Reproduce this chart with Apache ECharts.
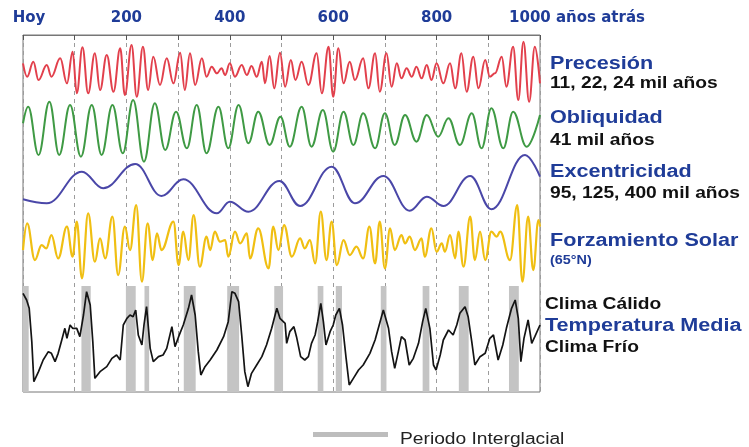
<!DOCTYPE html>
<html>
<head>
<meta charset="utf-8">
<script src="https://cdn.jsdelivr.net/npm/echarts@6/dist/echarts.min.js"></script>
<style>
  html, body { margin: 0; padding: 0; background: #fff; }
  #chart { width: 749px; height: 447px; }
</style>
</head>
<body>
<div id="chart"></div>
<script>
// Time axis in thousands of years before present
const tickValues = [0, 200, 400, 600, 800, 1000];
const tickNames = ['Hoy', '200', '400', '600', '800', '1000 años atrás'];

// Interglacial periods [start, end], kyr ago
const interglacial = [[0, 11], [113, 131], [199, 218], [235, 244], [311, 334], [395, 418], [486, 503],
  [570, 581], [605, 617], [692, 703], [773, 786], [843, 862], [940, 959]];

// Precession index (relative units), [kyr, value]
const precession = [[0, 2.5], [8, -1.5], [20, 3.0], [30, -2.5], [46, 2.0], [55, -1.5], [72, 4.0], [85, -3.5],
  [96, 6.0], [104, -6.5], [115, 7.3], [126, -6.5], [139, 5.5], [149, -5.5], [162, 5.0], [175, -6.0], [188, 7.0],
  [197, -7.0], [210, 8.0], [220, -7.5], [232, 7.5], [242, -5.5], [252, 4.5], [265, -4.0], [278, 4.0], [291, -3.5],
  [304, 5.7], [313, -5.5], [323, 5.5], [333, -4.0], [346, 4.0], [355, -1.5], [365, 1.5], [375, -0.5], [384, 1.0],
  [391, -1.0], [400, 2.5], [410, -1.5], [423, 2.0], [433, -1.0], [442, 1.7], [452, -1.5], [462, 3.0], [468, -3.5],
  [477, 4.7], [486, -5.0], [497, 5.7], [507, -4.5], [518, 3.5], [527, -2.5], [539, 3.0], [552, -4.0], [568, 5.5],
  [578, -6.5], [591, 7.5], [600, -7.5], [610, 7.0], [620, -3.5], [632, 3.0], [642, -2.5], [658, 4.0], [668, -5.0],
  [681, 5.5], [690, -6.0], [703, 5.5], [713, -4.5], [723, 2.5], [732, -2.0], [742, 1.0], [752, -1.5], [761, 1.5],
  [771, -2.0], [781, 2.0], [790, -2.5], [800, 2.5], [813, -3.5], [826, 2.5], [836, -5.0], [848, 5.5], [858, -6.0],
  [871, 4.5], [881, -5.0], [894, 3.5], [903, -1.5], [913, -0.5], [926, 4.5], [935, -4.5], [948, 7.5], [958, -8.5],
  [968, 9.0], [979, -9.0], [990, 7.5], [1000, -3.5]];

// Obliquity (relative units)
const obliquity = [[0, 1.5], [10, 6.5], [30, -8.0], [51, 8.0], [70, -8.0], [91, 7.0], [112, -8.5], [133, 7.0],
  [152, -8.0], [173, 7.0], [193, -7.5], [213, 8.5], [234, -10.0], [255, 7.5], [275, -6.5], [296, 5.0], [317, -6.0],
  [336, 7.0], [355, -7.5], [378, 6.5], [397, -6.0], [417, 7.0], [436, -4.5], [455, 5.0], [477, -5.0], [498, 3.5],
  [516, -5.5], [539, 6.5], [558, -5.5], [580, 5.5], [600, -7.0], [620, 5.0], [639, -5.0], [658, 4.5], [681, -6.0],
  [700, 4.5], [719, -5.0], [739, 4.0], [761, -4.0], [781, 4.0], [803, -2.5], [823, 3.0], [845, -5.0], [868, 4.5],
  [887, -6.0], [906, 6.0], [929, -6.0], [948, 5.0], [974, -5.5], [1000, 4.0]];

// Eccentricity (relative units)
const eccentricity = [[0, -3.3], [46, -4.5], [114, 5.0], [155, 0], [217, 7.3], [268, -2.3], [310, 2.7],
  [375, -7.5], [400, -4.0], [436, -7.0], [496, 2.2], [536, -5.3], [597, 6.5], [642, -4.5], [697, 3.7],
  [748, -6.7], [781, -2.5], [813, -5.3], [865, 3.7], [906, -6.3], [971, 10.0], [1000, 3.5]];

// Summer insolation at 65°N (relative units)
const insolation = [[0, -1.0], [8, 7.0], [23, -4.0], [36, 0.5], [45, -0.5], [55, 3.5], [68, -3.5], [85, 6.0],
  [96, -3.0], [104, 7.5], [114, -9.5], [126, 10.0], [139, -4.5], [149, 2.5], [159, -3.5], [173, 9.0], [184, -8.5],
  [197, 6.0], [207, -1.0], [219, 12.5], [230, -10.5], [241, 7.0], [251, -4.0], [259, 4.0], [268, -1.0], [291, 7.5],
  [301, -5.5], [310, 4.5], [320, -4.0], [330, 9.5], [342, -6.0], [355, 3.0], [362, -1.0], [371, 4.5], [381, 1.5],
  [391, 2.0], [397, -3.0], [410, 4.5], [420, 1.0], [433, 4.0], [439, -3.5], [455, 5.5], [475, -6.5], [484, 6.0],
  [494, -1.0], [505, 6.5], [520, -3.0], [536, 2.5], [545, -0.5], [555, 2.0], [565, -5.0], [576, 10.5], [587, -4.0],
  [597, 7.5], [607, -5.5], [620, 2.0], [632, -2.5], [645, 0], [658, -3.5], [670, 6.0], [681, -5.0], [690, 7.5],
  [700, -6.5], [710, 5.5], [719, -1.0], [732, 3.5], [739, 1.0], [748, 3.0], [758, -1.0], [771, 2.5], [777, -3.0],
  [790, 5.5], [800, -1.5], [810, 1.0], [816, -1.5], [826, 3.5], [836, -3.5], [842, 4.5], [852, -6.0], [865, 9.0],
  [874, -4.0], [884, 4.5], [894, -4.0], [906, 4.5], [916, 3.0], [923, 4.5], [942, -4.0], [956, 12.5], [966, -10.5],
  [977, 9.0], [987, -7.0], [997, 8.0], [1000, 6.0]];

// Mean temperature anomaly (relative units)
const temperature = [[0, 13.5], [7, 11.5], [12, 9.0], [17, -1.0], [21, -13.0], [30, -10.0], [39, -6.5], [49, -4.0],
  [55, -4.5], [62, -7.0], [68, -4.5], [75, -0.5], [81, 3.0], [85, 0], [91, 4.0], [96, 3.0], [104, 3.0], [110, 0.5],
  [117, 7.0], [123, 14.0], [130, 10.0], [135, -1.0], [139, -12.0], [149, -10.0], [162, -8.5], [172, -6.0],
  [181, -5.0], [188, -6.5], [194, 4.0], [201, 6.0], [207, 7.0], [213, 6.5], [218, 8.5], [223, 1.0], [230, -2.0],
  [234, 4.0], [239, 9.5], [246, -3.0], [252, -7.0], [262, -5.5], [271, -5.0], [278, -3.0], [288, 3.5], [294, -2.5],
  [301, 0.5], [310, 4.0], [320, 9.0], [326, 13.0], [333, 7.0], [339, -4.0], [344, -11.0], [352, -8.5], [362, -6.5],
  [375, -3.5], [388, 0.5], [397, 5.0], [404, 14.0], [410, 13.5], [417, 11.0], [423, 1.0], [429, -10.0],
  [435, -14.5], [442, -10.5], [452, -8.0], [462, -5.5], [471, -2.0], [481, 3.0], [491, 9.0], [497, 6.0], [507, 4.5],
  [510, -1.5], [516, 2.0], [524, 3.5], [529, 0.5], [537, -5.5], [545, -6.5], [552, -5.5], [558, -1.5], [565, 1.0],
  [570, 5.0], [576, 10.5], [581, 5.0], [586, -2.0], [594, 2.0], [600, 4.0], [605, 7.0], [612, 9.0], [618, 4.0],
  [625, -6.0], [631, -14.0], [639, -12.0], [649, -9.5], [658, -8.0], [671, -4.5], [681, -0.5], [689, 4.0],
  [697, 8.5], [707, 3.0], [713, -4.0], [719, -9.0], [726, -4.0], [732, 0.5], [739, -0.5], [747, -8.0], [755, -6.0],
  [765, -1.5], [773, 5.0], [779, 9.0], [787, 3.0], [794, -8.0], [799, -9.5], [807, -5.0], [813, -0.5], [823, 2.5],
  [832, 1.0], [839, 4.0], [845, 7.5], [855, 9.5], [861, 6.5], [868, -1.0], [874, -8.0], [884, -5.5], [894, -4.5],
  [903, 0], [910, 1.0], [919, -6.5], [928, -2.0], [935, 3.0], [945, 9.0], [952, 11.5], [958, 6.0], [963, -7.0],
  [969, 0], [977, 5.5], [984, -1.5], [990, 0.5], [1000, 4.0]];

// ---- layout ----
const LEFT = 23, RIGHT = 209;          // plot box spans x = 23 .. 540
const UNIT = 10 / 3;                   // pixels per data unit in every strip
const BLUE_TEXT = '#1f3c98';
const FONT = '"Liberation Sans", Arial, Helvetica, sans-serif';
const AXIS_FONT = '"DejaVu Sans", sans-serif';

const strips = [
  { name: 'Precesión', data: precession, color: '#e2404c', centre: 71.7, lim: 10, width: 2, smooth: 0.4 },
  { name: 'Oblicuidad', data: obliquity, color: '#3f9a44', centre: 128.3, lim: 11, width: 2, smooth: 0.4 },
  { name: 'Excentricidad', data: eccentricity, color: '#4a47a8', centre: 188.3, lim: 11, width: 2, smooth: 0.4 },
  { name: 'Forzamiento Solar', data: insolation, color: '#f0bf12', centre: 246.7, lim: 13, width: 2.2, smooth: 0.4 }
];

const grid = [{ left: LEFT, right: RIGHT, top: 35, bottom: 55, show: true, borderColor: '#777', borderWidth: 1, backgroundColor: 'transparent' }];
const xAxis = [{
  gridIndex: 0, type: 'value', position: 'top', min: 0, max: 1000, interval: 100,
  axisLine: { show: true, onZero: false, lineStyle: { color: '#777', width: 1 } },
  axisTick: { show: true, inside: true, length: 5, lineStyle: { color: '#555' } },
  splitLine: { show: true, lineStyle: { type: [4, 4], color: '#9c9c9c', width: 1 } },
  axisLabel: {
    margin: 9, color: BLUE_TEXT, fontFamily: AXIS_FONT, fontWeight: 'bold', fontSize: 15,
    formatter: function (v) {
      const i = tickValues.indexOf(v);
      if (i < 0) return '';
      if (i === 0) return '{first|' + tickNames[i] + '}';
      if (i === tickValues.length - 1) return '{last|' + tickNames[i] + '}';
      return tickNames[i];
    },
    rich: {
      first: { padding: [0, 0, 0, 12], color: BLUE_TEXT, fontFamily: AXIS_FONT, fontWeight: 'bold', fontSize: 15 },
      last: { padding: [0, 0, 0, 74], color: BLUE_TEXT, fontFamily: AXIS_FONT, fontWeight: 'bold', fontSize: 15 }
    }
  }
}];
const yAxis = [{ gridIndex: 0, type: 'value', min: 0, max: 1, show: false }];
const series = [];

strips.forEach(function (s, k) {
  const gi = k + 1;
  grid.push({ left: LEFT, right: RIGHT, top: s.centre - s.lim * UNIT, height: 2 * s.lim * UNIT });
  xAxis.push({ gridIndex: gi, type: 'value', min: 0, max: 1000, show: false });
  yAxis.push({ gridIndex: gi, type: 'value', min: -s.lim, max: s.lim, show: false });
  series.push({
    name: s.name, type: 'line', xAxisIndex: gi, yAxisIndex: gi, data: s.data,
    smooth: s.smooth, smoothMonotone: 'x', showSymbol: false, clip: false, silent: true,
    lineStyle: { color: s.color, width: s.width }, z: 3
  });
});

// Temperature strip with interglacial shading
grid.push({ left: LEFT, right: RIGHT, top: 286, height: 106 });
xAxis.push({ gridIndex: 5, type: 'value', min: 0, max: 1000, show: false });
yAxis.push({ gridIndex: 5, type: 'value', min: -16.1, max: 15.7, show: false });
series.push({
  name: 'Temperatura Media', type: 'line', xAxisIndex: 5, yAxisIndex: 5, data: temperature,
  showSymbol: false, clip: false, silent: true, z: 3,
  lineStyle: { color: '#141414', width: 1.7 },
  markArea: {
    silent: true,
    itemStyle: { color: '#c4c4c4' },
    data: interglacial.map(function (p) { return [{ xAxis: p[0] }, { xAxis: p[1] }]; })
  }
});

function label(text, x, y, size, color, weight) {
  return {
    type: 'text', x: x, y: y, scaleX: 1.2, silent: true,
    style: {
      text: text, fill: color, align: 'left', verticalAlign: 'middle',
      font: (weight || 'bold') + ' ' + size + 'px ' + FONT
    }
  };
}

const graphic = [
  label('Precesión', 550, 64, 18, BLUE_TEXT),
  label('11, 22, 24 mil años', 550, 84, 16, '#111'),
  label('Obliquidad', 550, 118.5, 18, BLUE_TEXT),
  label('41 mil años', 550, 140.5, 16, '#111'),
  label('Excentricidad', 550, 172.5, 18, BLUE_TEXT),
  label('95, 125, 400 mil años', 550, 193.5, 16, '#111'),
  label('Forzamiento Solar', 550, 241.5, 18, BLUE_TEXT),
  label('(65°N)', 550, 261, 12, BLUE_TEXT),
  label('Clima Cálido', 545, 305, 16, '#111'),
  label('Temperatura Media', 545, 326.5, 18, BLUE_TEXT),
  label('Clima Frío', 545, 348, 16, '#111'),
  { type: 'rect', silent: true, shape: { x: 313, y: 432, width: 75, height: 5 }, style: { fill: '#bdbdbd' } },
  label('Periodo Interglacial', 400, 439.5, 16, '#222', 'normal')
];

const chart = echarts.init(document.getElementById('chart'), null, { renderer: 'canvas' });
chart.setOption({
  animation: false,
  backgroundColor: '#ffffff',
  grid: grid,
  xAxis: xAxis,
  yAxis: yAxis,
  series: series,
  graphic: graphic
});
</script>
</body>
</html>
